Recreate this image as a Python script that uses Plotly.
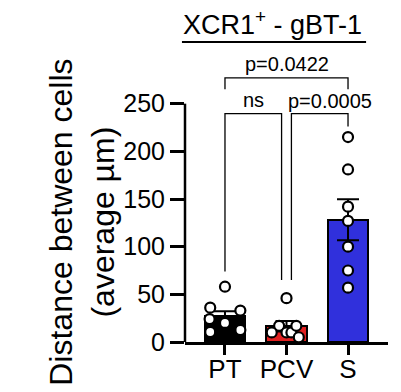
import plotly.graph_objects as go

categories = ["PT", "PCV", "S"]
pt_values = [58, 36, 33, 24, 20, 10.5, 12.6]
pcv_values = [46, 17, 10, 10, 10, 17, 5]
s_values = [215, 181, 142, 127, 100, 75, 57]
sem_values = [4.5, 5.5, 21.5]
y_ticks = [0, 50, 100, 150, 200, 250]
bar_colors = ["#000000", "#e02020", "#3030dc"]

# horizontal jitter offsets (layout only)
pt_jitter = [0, -0.24, 0.25, -0.25, 0, -0.24, 0.25]
pcv_jitter = [0, -0.12, 0, -0.24, 0.08, 0.16, 0.2]
s_jitter = [0, 0, 0, 0, 0, 0, 0]

groups = [pt_values, pcv_values, s_values]
jitters = [pt_jitter, pcv_jitter, s_jitter]
means = [sum(g) / len(g) for g in groups]

FONT = "Liberation Sans, Arial, sans-serif"

fig = go.Figure()
fig.add_trace(go.Bar(
    x=[0, 1, 2], y=means, width=0.66,
    marker=dict(color=bar_colors, line=dict(color="black", width=2)),
    error_y=dict(type="data", array=sem_values, color="black", thickness=2, width=11),
    showlegend=False,
))
for i, (vals, jit) in enumerate(zip(groups, jitters)):
    fig.add_trace(go.Scatter(
        x=[i + j for j in jit], y=vals, mode="markers", cliponaxis=False,
        marker=dict(size=10, color="white", line=dict(color="black", width=2.2)),
        showlegend=False,
    ))

# significance brackets
def bracket(x0, x1, y, y0_end, y1_end):
    fig.add_shape(type="path",
                  path=f"M {x0} {y0_end} L {x0} {y} L {x1} {y} L {x1} {y1_end}",
                  xref="x", yref="y", line=dict(color="black", width=1.3))

bracket(0, 2, 277, 265, 265)
bracket(0, 0.92, 239.5, 74, 65)
bracket(1.08, 2, 239.5, 65, 226)

fig.add_annotation(x=1, y=292, xref="x", yref="y", text="p=0.0422", showarrow=False,
                   font=dict(size=20, family=FONT, color="black"), yanchor="middle")
fig.add_annotation(x=0.47, y=254, xref="x", yref="y", text="ns", showarrow=False,
                   font=dict(size=20, family=FONT, color="black"), yanchor="middle")
fig.add_annotation(x=1.70, y=253, xref="x", yref="y", text="p=0.0005", showarrow=False,
                   font=dict(size=20, family=FONT, color="black"), yanchor="middle")

# title with underline
fig.add_annotation(x=0.43, y=1.115, xref="paper", yref="paper",
                   text="XCR1<sup>+</sup> - gBT-1", showarrow=False,
                   font=dict(size=27, family=FONT, color="black"), yanchor="middle")
fig.add_shape(type="line", xref="paper", yref="paper", x0=-0.015, x1=0.892,
              y0=1.049, y1=1.049, line=dict(color="black", width=2))

# y axis line only up to 250
fig.add_shape(type="line", xref="paper", yref="y", x0=0, x1=0, y0=0, y1=250,
              line=dict(color="black", width=2.5))

# y title
fig.add_annotation(x=0, y=0.417, xref="paper", yref="paper", xshift=-103,
                   text="Distance between cells<br>(average µm)", textangle=-90,
                   showarrow=False, xanchor="center", yanchor="middle",
                   font=dict(size=32, family=FONT, color="black"))

fig.update_layout(
    width=401, height=392,
    margin=dict(l=185, r=13, t=56, b=50),
    plot_bgcolor="white", paper_bgcolor="white",
    font=dict(family=FONT, color="black"),
    bargap=0,
)
fig.update_xaxes(range=[-0.65, 2.65], tickvals=[0, 1, 2], ticktext=categories,
                 showline=True, linecolor="black", linewidth=2.5,
                 ticks="outside", ticklen=10, tickwidth=2.5, tickcolor="black",
                 tickfont=dict(size=26, family=FONT, color="black"),
                 ticklabelstandoff=-8, automargin=False,
                 showgrid=False, zeroline=False, fixedrange=True)
fig.update_yaxes(range=[0, 300], tickvals=y_ticks,
                 showline=False, ticks="outside", ticklen=14, tickwidth=2.5,
                 tickcolor="black", tickfont=dict(size=25, family=FONT, color="black"),
                 automargin=False,
                 showgrid=False, zeroline=False, fixedrange=True)

fig.write_html("out.html", config={"displayModeBar": False},
               post_script="document.body.style.margin='0';document.body.style.padding='0';")
